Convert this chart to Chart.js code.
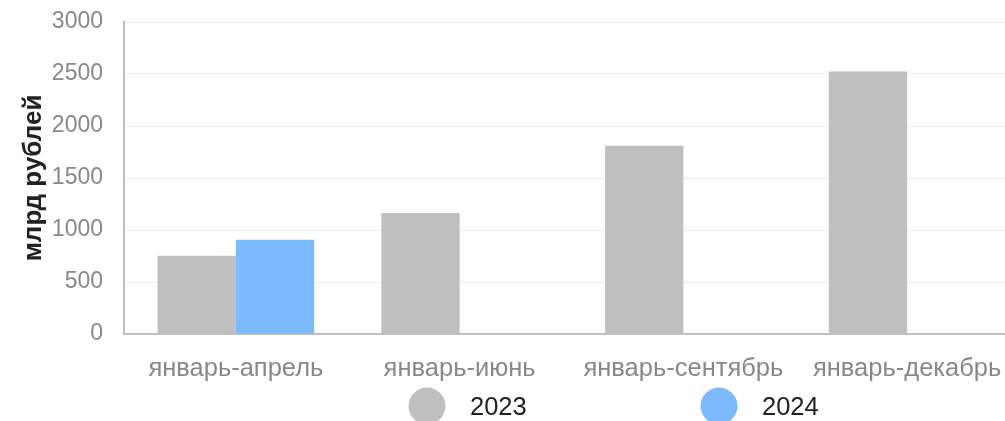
<!DOCTYPE html>
<html>
<head>
<meta charset="utf-8">
<script src="https://cdn.jsdelivr.net/npm/chart.js@4/dist/chart.umd.min.js"></script>
<style>
  html, body { margin: 0; padding: 0; background: #fff; overflow: hidden; }
  #wrap { position: relative; width: 1019px; height: 421px; }
</style>
</head>
<body>
<div id="wrap"><canvas id="bar-chart"></canvas></div>
<script>
var categories = ["январь-апрель", "январь-июнь", "январь-сентябрь", "январь-декабрь"];
var values2023 = [753, 1163, 1811, 2525];
var values2024 = [906, null, null, null];
var seriesNames = ["2023", "2024"];
var yTicks = [0, 500, 1000, 1500, 2000, 2500, 3000];

var FONT = "'Liberation Sans', Arial, sans-serif";

// legend with big dots, drawn under the x labels
var dotLegend = {
    id: "dotLegend",
    afterDraw: function(chart) {
        var ctx = chart.ctx;
        var spots = [427, 719];
        var cy = 406;
        ctx.save();
        chart.data.datasets.forEach(function(ds, i) {
            ctx.beginPath();
            ctx.arc(spots[i], cy, 18.5, 0, Math.PI * 2);
            ctx.fillStyle = ds.backgroundColor;
            ctx.fill();
            ctx.fillStyle = "#222";
            ctx.font = "25.5px " + FONT;
            ctx.textBaseline = "middle";
            ctx.textAlign = "left";
            ctx.fillText(ds.label, spots[i] + 43, cy + 2);
        });
        ctx.restore();
    }
};

var ctx = document.getElementById("bar-chart").getContext("2d");
var barGraph = new Chart(ctx, {
    type: "bar",
    data: {
        labels: categories,
        datasets: [
            {
                label: seriesNames[0],
                backgroundColor: "#bfbfbf",
                data: values2023,
                categoryPercentage: 0.7,
                barPercentage: 1.0
            },
            {
                label: seriesNames[1],
                backgroundColor: "#7dbafb",
                data: values2024,
                categoryPercentage: 0.7,
                barPercentage: 1.0
            }
        ]
    },
    options: {
        responsive: true,
        maintainAspectRatio: false,
        animation: false,
        layout: { padding: { top: 22, right: 0, bottom: 0, left: 0 } },
        plugins: {
            legend: { display: false },
            tooltip: { enabled: false }
        },
        scales: {
            x: {
                grid: { display: false, drawTicks: false },
                border: { display: true, color: "#bfbfbf", width: 2 },
                ticks: {
                    color: "#888",
                    font: { family: FONT, size: 25.5 },
                    padding: 20,
                    maxRotation: 0,
                    autoSkip: false
                },
                afterFit: function(scale) {
                    scale.height = 87;
                    scale.paddingLeft = 0;
                    scale.paddingRight = 0;
                }
            },
            y: {
                min: 0,
                max: 3000,
                afterBuildTicks: function(scale) {
                    scale.ticks = yTicks.map(function(v) { return { value: v }; });
                },
                grid: { color: "#ececec", lineWidth: 1, drawTicks: false },
                border: { display: true, color: "#bfbfbf", width: 2 },
                ticks: {
                    color: "#888",
                    font: { family: FONT, size: 23 },
                    padding: 21,
                    callback: function(v) { return String(v); }
                },
                title: {
                    display: true,
                    text: "млрд рублей",
                    color: "#222",
                    font: { family: FONT, size: 26, weight: "bold", lineHeight: 1.2 },
                    padding: { top: 18, bottom: 0 }
                },
                afterFit: function(scale) {
                    scale.width = 124;
                    scale.paddingTop = 0;
                    scale.paddingBottom = 0;
                }
            }
        }
    },
    plugins: [dotLegend]
});
</script>
</body>
</html>
